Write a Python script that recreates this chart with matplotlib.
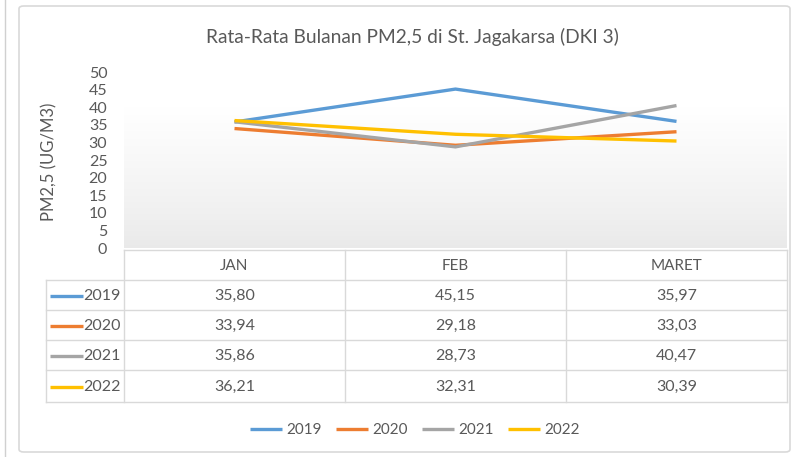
import matplotlib
matplotlib.use('Agg')
import matplotlib.pyplot as plt
import numpy as np
from matplotlib.colors import LinearSegmentedColormap
from matplotlib.patches import FancyBboxPatch
from matplotlib.lines import Line2D

plt.rcParams['font.family'] = ['Lato', 'DejaVu Sans']

title = 'Rata-Rata Bulanan PM2,5 di St. Jagakarsa (DKI 3)'
ylabel = 'PM2,5 (UG/M3)'
months = ['JAN', 'FEB', 'MARET']
years = ['2019', '2020', '2021', '2022']
v2019 = [35.80, 45.15, 35.97]
v2020 = [33.94, 29.18, 33.03]
v2021 = [35.86, 28.73, 40.47]
v2022 = [36.21, 32.31, 30.39]
series = [v2019, v2020, v2021, v2022]
colors = ['#5B9BD5', '#ED7D31', '#A5A5A5', '#FFC000']
yticks = list(range(0, 55, 5))

W, H = 799, 457
fig = plt.figure(figsize=(W / 100, H / 100), dpi=100)
txt = '#595959'
grid = '#d9d9d9'

def fx(px):
    return px / W

def fy(py):
    return 1 - py / H

# card border + left strip
fig.patches.append(FancyBboxPatch((fx(19), fy(452)), fx(790) - fx(19), fy(6) - fy(452),
                                  boxstyle='round,pad=0,rounding_size=0.006',
                                  transform=fig.transFigure, fill=False,
                                  edgecolor='#d9d9d9', lw=1.2))
fig.lines.append(Line2D([fx(5), fx(5)], [0, 1], transform=fig.transFigure, color='#d0d0d0', lw=1))

# plot area
x0, x1, yt, yb = 124, 787, 72, 248
ax = fig.add_axes([fx(x0), fy(yb), fx(x1) - fx(x0), fy(yt) - fy(yb)])
cmap = LinearSegmentedColormap.from_list('g', ['#e9e9e9', '#ffffff'])
t = np.linspace(0, 1, 300)
g = (np.clip(t / 0.8, 0, 1) ** 0.8)[:, None]
ax.imshow(g, extent=[-0.5, 2.5, 0, 50], aspect='auto', cmap=cmap, origin='lower',
          interpolation='bilinear', zorder=0)
xs = np.arange(len(months))
for vals, c, yr in zip(series, colors, years):
    ax.plot(xs, vals, color=c, lw=2.4, label=yr, zorder=3, solid_capstyle='butt')
ax.set_xlim(-0.5, 2.5)
ax.set_ylim(0, 50)
ax.set_yticks(yticks)
ax.set_yticklabels([str(t) for t in yticks], fontsize=11.5, color=txt)
ax.set_xticks([])
ax.tick_params(axis='y', length=0, pad=12)
for s in ax.spines.values():
    s.set_visible(False)
fig.text(fx(49), fy(162), ylabel, rotation=90, ha='center', va='center', fontsize=12, color=txt)

# data table
key_l = 46
row_y = [250, 280, 310, 340, 370, 402]
tax = fig.add_axes([0, 0, 1, 1])
tax.set_xlim(0, W)
tax.set_ylim(H, 0)
tax.axis('off')
col_w = (x1 - x0) / len(months)
col_edges = [x0 + i * col_w for i in range(len(months) + 1)]
for xe in col_edges:
    tax.plot([xe, xe], [row_y[0], row_y[-1]], color=grid, lw=1)
tax.plot([key_l, key_l], [row_y[1], row_y[-1]], color=grid, lw=1)
tax.plot([x0, x1], [row_y[0], row_y[0]], color=grid, lw=1)
for yy in row_y[1:]:
    tax.plot([key_l, x1], [yy, yy], color=grid, lw=1)
for i, m in enumerate(months):
    tax.text(col_edges[i] + col_w / 2, (row_y[0] + row_y[1]) / 2 + 1, m,
             ha='center', va='center', fontsize=11, color=txt)
for r, (yr, vals, c) in enumerate(zip(years, series, colors)):
    yc = (row_y[r + 1] + row_y[r + 2]) / 2 + 1
    tax.plot([50, 83], [yc, yc], color=c, lw=2.4, solid_capstyle='butt')
    tax.text(121, yc, yr, ha='right', va='center', fontsize=11.5, color=txt)
    for i, v in enumerate(vals):
        tax.text(col_edges[i] + col_w / 2, yc, f'{v:.2f}'.replace('.', ','),
                 ha='center', va='center', fontsize=11.5, color=txt)

fig.text(fx(412), fy(37), title, ha='center', va='center', fontsize=13.8, color=txt)

handles, labels = ax.get_legend_handles_labels()
fig.legend(handles, labels, loc='center', bbox_to_anchor=(fx(415), fy(430)), ncol=4,
           frameon=False, fontsize=11, labelcolor=txt, handlelength=2.1,
           handletextpad=0.3, columnspacing=0.9)

fig.savefig('out.png', dpi=100)
